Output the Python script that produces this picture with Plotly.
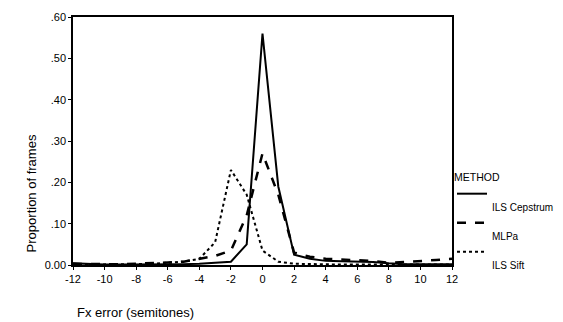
import plotly.graph_objects as go

x_vals = list(range(-12, 13))
ils_cepstrum = [0.004, 0.002, 0.001, 0.001, 0.001, 0.001, 0.001, 0.002, 0.003, 0.005, 0.008, 0.05, 0.56,
                0.19, 0.025, 0.015, 0.01, 0.009, 0.008, 0.007, 0.004, 0.002, 0.002, 0.002, 0.002]
mlpa = [0.003, 0.002, 0.002, 0.002, 0.003, 0.004, 0.006, 0.008, 0.015, 0.022, 0.035, 0.12, 0.27,
        0.17, 0.03, 0.02, 0.015, 0.013, 0.012, 0.01, 0.005, 0.007, 0.01, 0.012, 0.015]
ils_sift = [0.001, 0.001, 0.001, 0.001, 0.002, 0.003, 0.005, 0.008, 0.015, 0.055, 0.23, 0.17, 0.035,
            0.008, 0.003, 0.002, 0.001, 0.001, 0.001, 0.001, 0.001, 0.001, 0.001, 0.001, 0.001]
series_names = ["ILS Cepstrum", "MLPa", "ILS Sift"]
x_ticks = list(range(-12, 13, 2))
x_ticktext = [str(v) for v in x_ticks]
y_ticks = [0.0, 0.1, 0.2, 0.3, 0.4, 0.5, 0.6]
y_ticktext = ["0.00", ".10", ".20", ".30", ".40", ".50", ".60"]

fig = go.Figure()
styles = [("solid", 2), ("dash", 2.5), ("dot", 2)]
for name, ys, (dash, w) in zip(series_names, [ils_cepstrum, mlpa, ils_sift], styles):
    fig.add_trace(go.Scatter(x=x_vals, y=ys, mode="lines", name="&nbsp;<br>" + name,
                             line=dict(color="black", width=w, dash=dash)))

axis_common = dict(showgrid=False, zeroline=False, showline=True, linecolor="black",
                   linewidth=1.5, mirror=True, ticks="outside", ticklen=3,
                   tickcolor="black", tickfont=dict(size=11, color="black"))
fig.update_xaxes(range=[-12, 12], tickvals=x_ticks, ticktext=x_ticktext, **axis_common)
fig.update_yaxes(range=[0, 0.6], tickvals=y_ticks, ticktext=y_ticktext, **axis_common)

fig.add_annotation(text="Fx error (semitones)", xref="paper", yref="paper", x=0.005, y=-0.155,
                   xanchor="left", yanchor="top", showarrow=False, font=dict(size=13, color="black"))
fig.add_annotation(text="Proportion of frames", xref="paper", yref="paper", x=-0.11, y=0.29,
                   xanchor="center", yanchor="middle", textangle=-90, showarrow=False,
                   font=dict(size=13, color="black"))

fig.update_layout(
    width=555, height=314,
    margin=dict(l=65, r=111, t=9, b=57, autoexpand=False),
    paper_bgcolor="white", plot_bgcolor="white",
    font=dict(family="Liberation Sans, Arial, sans-serif", color="black"),
    legend=dict(x=1.0, xanchor="left", y=0.395, yanchor="top",
                title=dict(text="METHOD", font=dict(size=10.5)),
                font=dict(size=10), valign="top", tracegroupgap=0,
                itemwidth=30, bgcolor="rgba(0,0,0,0)"),
)
fig.write_html("out.html")
